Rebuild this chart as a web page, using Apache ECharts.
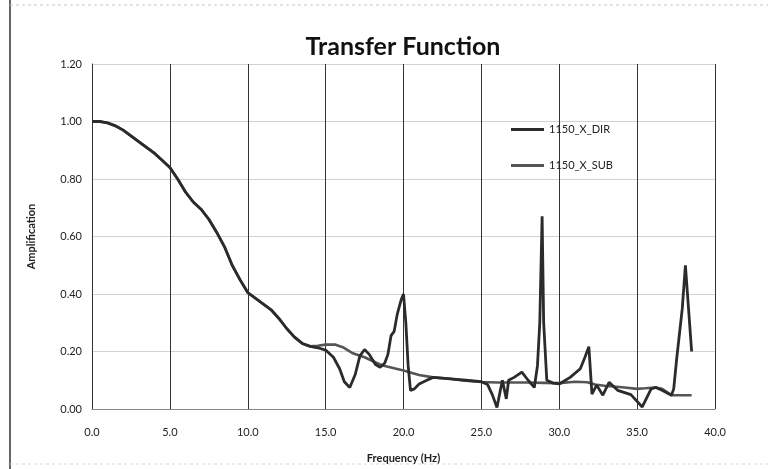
<!DOCTYPE html>
<html>
<head>
<meta charset="utf-8">
<script src="https://cdn.jsdelivr.net/npm/echarts@6/dist/echarts.min.js"></script>
<style>
  html, body { margin: 0; padding: 0; background: #fff; }
  #chart { width: 768px; height: 469px; }
</style>
</head>
<body>
<div id="chart"></div>
<script>
// Transfer function: amplification vs. frequency for two records
const titleText = 'Transfer Function';
const xName = 'Frequency (Hz)';
const yName = 'Amplification';
const seriesNames = ['1150_X_DIR', '1150_X_SUB'];

// shared low-frequency portion (Hz, amplification)
const freqCommon = [0, 0.5, 1, 1.5, 2, 2.5, 3, 3.5, 4, 4.5, 5, 5.5, 6, 6.5, 7, 7.5, 8, 8.5, 9, 9.5, 10, 10.5, 11, 11.5, 12, 12.5, 13, 13.5, 14];
const ampCommon  = [1.00, 1.00, 0.995, 0.985, 0.97, 0.95, 0.93, 0.91, 0.89, 0.865, 0.84, 0.80, 0.755, 0.72, 0.695, 0.66, 0.615, 0.565, 0.50, 0.45, 0.405, 0.385, 0.365, 0.345, 0.315, 0.28, 0.25, 0.228, 0.218];

// 1150_X_DIR above 14 Hz
const freqDir = [14.5, 15, 15.5, 15.9, 16.2, 16.55, 16.9, 17.2, 17.5, 17.8, 18.2, 18.5, 18.8, 19.0, 19.2, 19.4, 19.6, 19.85, 20.0, 20.15, 20.3, 20.45, 20.7, 21.0, 21.5, 21.9, 23, 24, 25.0, 25.4, 25.7, 26.0, 26.2, 26.35, 26.6, 26.75, 27.1, 27.6, 28.0, 28.4, 28.6, 28.75, 28.9, 29.0, 29.2, 29.6, 30, 30.7, 31.35, 31.65, 31.9, 32.1, 32.4, 32.8, 33.2, 33.75, 34.6, 35.33, 35.9, 36.2, 36.6, 37.2, 37.35, 37.55, 37.9, 38.1, 38.3, 38.5];
const ampDir  = [0.213, 0.205, 0.18, 0.14, 0.095, 0.075, 0.12, 0.185, 0.207, 0.19, 0.155, 0.145, 0.16, 0.19, 0.255, 0.27, 0.33, 0.38, 0.40, 0.30, 0.15, 0.065, 0.07, 0.087, 0.10, 0.11, 0.105, 0.10, 0.095, 0.085, 0.05, 0.005, 0.06, 0.10, 0.035, 0.10, 0.11, 0.128, 0.10, 0.075, 0.15, 0.30, 0.67, 0.30, 0.10, 0.09, 0.087, 0.11, 0.14, 0.18, 0.217, 0.052, 0.083, 0.048, 0.093, 0.065, 0.05, 0.007, 0.07, 0.075, 0.065, 0.048, 0.07, 0.18, 0.35, 0.50, 0.35, 0.20];

// 1150_X_SUB above 14 Hz
const freqSub = [14.5, 15, 15.6, 16.1, 16.7, 17.5, 18.6, 20, 21, 21.9, 23, 24, 25, 26, 27, 28, 29, 30, 31, 31.8, 32.3, 33, 33.5, 34.2, 35, 35.5, 36.2, 36.6, 37.2, 38.5];
const ampSub  = [0.22, 0.224, 0.224, 0.215, 0.195, 0.18, 0.152, 0.134, 0.118, 0.11, 0.105, 0.098, 0.094, 0.092, 0.092, 0.092, 0.091, 0.09, 0.095, 0.093, 0.085, 0.08, 0.078, 0.075, 0.07, 0.072, 0.075, 0.07, 0.048, 0.048];

// axis tick labels
const xTicks = ['0.0', '5.0', '10.0', '15.0', '20.0', '25.0', '30.0', '35.0', '40.0'];
const yTicks = ['0.00', '0.20', '0.40', '0.60', '0.80', '1.00', '1.20'];

function pairs(fA, aA, fB, aB) {
  const out = [];
  fA.forEach((f, i) => out.push([f, aA[i]]));
  fB.forEach((f, i) => out.push([f, aB[i]]));
  return out;
}

const chart = echarts.init(document.getElementById('chart'), null, { renderer: 'canvas' });
const font = 'Lato, "Open Sans", sans-serif';

chart.setOption({
  backgroundColor: '#fff',
  animation: false,
  title: {
    text: titleText,
    left: 398, top: 29, textAlign: 'center',
    textStyle: { fontFamily: font, fontSize: 25, fontWeight: 'bold', color: '#111' }
  },
  legend: {
    orient: 'vertical',
    left: 506, top: 119,
    icon: 'rect',
    itemWidth: 33, itemHeight: 3, itemGap: 25,
    textStyle: { fontFamily: font, fontSize: 11, color: '#222' },
    data: seriesNames
  },
  grid: { left: 92, right: 53, top: 64, bottom: 58 },
  xAxis: {
    type: 'value', min: 0, max: 40, interval: 5,
    name: xName, nameLocation: 'middle', nameGap: 44,
    nameTextStyle: { fontFamily: font, fontSize: 11, fontWeight: 'bold', color: '#222' },
    axisLine: { show: true, lineStyle: { color: '#888', width: 1 } },
    axisTick: { show: false },
    axisLabel: {
      fontFamily: font, fontSize: 11, color: '#222', margin: 18,
      formatter: v => xTicks[Math.round(v / 5)]
    },
    splitLine: { show: true, lineStyle: { color: '#333', width: 1 } }
  },
  yAxis: {
    type: 'value', min: 0, max: 1.2, interval: 0.2,
    name: yName, nameLocation: 'middle', nameGap: 55, nameRotate: 90,
    nameTextStyle: { fontFamily: font, fontSize: 11, fontWeight: 'bold', color: '#222' },
    axisLine: { show: true, lineStyle: { color: '#333', width: 1 } },
    axisTick: { show: false },
    axisLabel: {
      fontFamily: font, fontSize: 11, color: '#222', margin: 10,
      formatter: v => yTicks[Math.round(v / 0.2)]
    },
    splitLine: { show: true, lineStyle: { color: '#d2d2d2', width: 1 } }
  },
  graphic: [
    { type: 'line', shape: { x1: 10, y1: 0, x2: 10, y2: 469 }, style: { stroke: '#333', lineWidth: 1.5 } },
    { type: 'line', shape: { x1: 10, y1: 5, x2: 768, y2: 5 }, style: { stroke: '#c8c8c8', lineWidth: 1, lineDash: [3, 3] } },
    { type: 'line', shape: { x1: 10, y1: 464, x2: 768, y2: 464 }, style: { stroke: '#d8d8d8', lineWidth: 1, lineDash: [3, 3] } }
  ],
  series: [
    {
      name: seriesNames[1], type: 'line', symbol: 'none', smooth: false,
      lineStyle: { color: '#555', width: 2.6 }, itemStyle: { color: '#555' },
      data: pairs(freqCommon, ampCommon, freqSub, ampSub)
    },
    {
      name: seriesNames[0], type: 'line', symbol: 'none', smooth: false,
      lineStyle: { color: '#2b2b2b', width: 2.8 }, itemStyle: { color: '#2b2b2b' },
      data: pairs(freqCommon, ampCommon, freqDir, ampDir)
    }
  ]
});
</script>
</body>
</html>
